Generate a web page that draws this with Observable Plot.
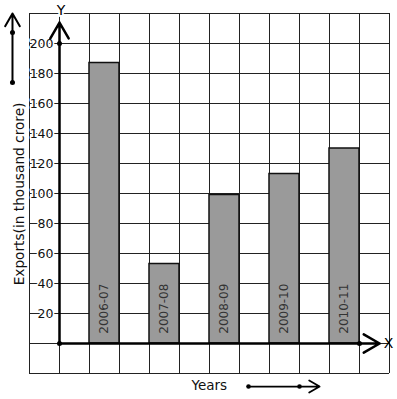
<!DOCTYPE html>
<html>
<head>
<meta charset="utf-8">
<script src="https://cdn.jsdelivr.net/npm/d3@7"></script>
<script src="https://cdn.jsdelivr.net/npm/@observablehq/plot@0.6"></script>
<style>
  html, body { margin: 0; padding: 0; background: #fff; }
  svg { display: block; }
</style>
</head>
<body>
<div id="chart"></div>
<script>
const years = ["2006-07", "2007-08", "2008-09", "2009-10", "2010-11"];
const exports = [187, 53, 99, 113, 130];
const yTicks = [20, 40, 60, 80, 100, 120, 140, 160, 180, 200];
const yTitle = "Exports(in thousand crore)";
const xTitle = "Years";

const data = years.map((year, i) => ({year, value: exports[i], col: 2 * i + 1}));
const gridX = d3.range(-1, 12, 1);
const gridY = d3.range(-20, 221, 20);

const font = "DejaVu Sans";

const chart = Plot.plot({
  width: 397,
  height: 399,
  x: {domain: [-1, 11], range: [29, 389], axis: null},
  y: {domain: [-20, 220], range: [373, 13], axis: null},
  style: {fontFamily: font, background: "white"},
  marks: [
    Plot.ruleX(gridX, {x: d => d, y1: -20, y2: 220, stroke: "#222", strokeWidth: 1, strokeOpacity: 1}),
    Plot.ruleY(gridY, {y: d => d, x1: -1, x2: 11, stroke: "#222", strokeWidth: 1, strokeOpacity: 1}),
    Plot.rect(data, {x1: d => d.col, x2: d => d.col + 1, y1: 0, y2: d => d.value, fill: "#9a9a9a", stroke: "#111", strokeWidth: 1.5}),
    Plot.text(data, {x: d => d.col + 0.5, y: 6.5, text: "year", rotate: -90, textAnchor: "start", fill: "#333", fontSize: 12}),
    Plot.text(yTicks, {x: 0, y: d => d, text: d => String(d), dx: -6, textAnchor: "end", fill: "#111", fontSize: 12.5, stroke: "white", strokeWidth: 3}),
    // axes
    Plot.arrow([{x1: 0, y1: 0, x2: 0, y2: 214}], {x1: "x1", y1: "y1", x2: "x2", y2: "y2", stroke: "black", strokeWidth: 2.5, headLength: 11, headAngle: 60}),
    Plot.arrow([{x1: 0, y1: 0, x2: 10.67, y2: 0}], {x1: "x1", y1: "y1", x2: "x2", y2: "y2", stroke: "black", strokeWidth: 2.5, headLength: 11, headAngle: 60}),
    Plot.dot([{x: 0, y: 0}, {x: 0, y: 200}, {x: 10, y: 0}], {x: "x", y: "y", r: 2.5, fill: "black", stroke: "none"}),
    Plot.text(["Y"], {x: 0, y: 222, text: d => d, dx: 1.5, fill: "black", fontSize: 14, stroke: "white", strokeWidth: 4}),
    Plot.text(["X"], {x: 10.97, y: 0, text: d => d, fill: "black", fontSize: 14}),
    // left side arrow and title
    Plot.arrow([{x1: -1.567, y1: 174, x2: -1.567, y2: 220}], {x1: "x1", y1: "y1", x2: "x2", y2: "y2", stroke: "black", strokeWidth: 2, headLength: 11, headAngle: 60}),
    Plot.dot([{x: -1.567, y: 174}, {x: -1.567, y: 207.3}], {x: "x", y: "y", r: 2.5, fill: "black", stroke: "none"}),
    Plot.text([yTitle], {x: -1.33, y: 99.7, text: d => d, rotate: -90, fill: "#111", fontSize: 13.7}),
    // bottom title and arrow
    Plot.text([xTitle], {x: 4.4, y: -28.3, text: d => d, textAnchor: "start", fill: "#111", fontSize: 13.5}),
    Plot.arrow([{x1: 6.3, y1: -28.7, x2: 8.67, y2: -28.7}], {x1: "x1", y1: "y1", x2: "x2", y2: "y2", stroke: "black", strokeWidth: 1.8, headLength: 10, headAngle: 60}),
    Plot.dot([{x: 6.3, y: -28.7}, {x: 8.0, y: -28.7}], {x: "x", y: "y", r: 2.3, fill: "black", stroke: "none"})
  ]
});
document.getElementById("chart").appendChild(chart);
</script>
</body>
</html>
